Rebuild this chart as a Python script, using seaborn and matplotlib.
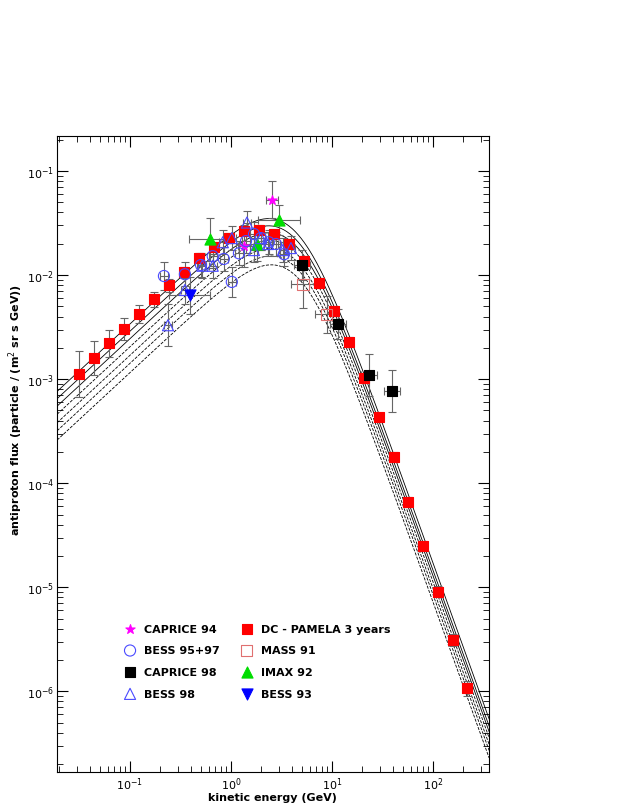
import numpy as np
import pandas as pd
import matplotlib
matplotlib.use("Agg")
import matplotlib.pyplot as plt
import seaborn as sns

# PAMELA 3 years
pam_E = [0.031,0.044,0.062,0.087,0.123,0.173,0.243,0.343,0.482,0.68,0.955,1.34,1.89,2.67,3.75,5.28,7.43,10.5,14.7,20.7,29.2,41.1,56.5,79.4,112,158,217]
pam_F = [1.12e-3,1.59e-3,2.22e-3,3.03e-3,4.22e-3,5.87e-3,8.0e-3,1.07e-2,1.46e-2,1.86e-2,2.27e-2,2.65e-2,2.71e-2,2.48e-2,1.99e-2,1.36e-2,8.4e-3,4.5e-3,2.27e-3,1.02e-3,4.3e-4,1.78e-4,6.6e-5,2.48e-5,9.1e-6,3.09e-6,1.07e-6]
pam_rel = [0.65,0.45,0.35,0.28,0.22,0.18,0.15,0.13,0.12,0.12,0.12,0.11,0.11,0.11,0.11,0.11,0.11,0.11,0.11,0.11,0.11,0.11,0.11,0.11,0.12,0.14,0.18]

cap94_E = [1.34, 2.55]; cap94_F = [1.9e-2, 5.3e-2]; cap94_rel = [0.6, 0.5]
bess_E = [0.217,0.35,0.505,0.66,0.85,1.02,1.2,1.41,1.69,1.98,2.37,2.79,3.35]
bess_F = [9.8e-3,1.02e-2,1.25e-2,1.52e-2,1.43e-2,8.6e-3,1.62e-2,2.12e-2,2.48e-2,2.27e-2,2.07e-2,1.99e-2,1.59e-2]
bess_rel = [0.35,0.3,0.3,0.3,0.3,0.4,0.3,0.3,0.3,0.3,0.3,0.3,0.3]
cap98_E = [5.05, 11.5, 23.3, 39.0]; cap98_F = [1.25e-2, 3.4e-3, 1.1e-3, 7.7e-4]; cap98_rel = [0.4, 0.4, 0.6, 0.6]
bess98_E = [0.238,0.35,0.52,0.66,0.83,1.02,1.44,1.69,1.98,2.33,3.27,3.93]
bess98_F = [3.3e-3,7.2e-3,1.23e-2,1.23e-2,2.07e-2,2.27e-2,3.2e-2,1.74e-2,2.27e-2,1.99e-2,1.74e-2,1.82e-2]
bess98_rel = [0.6,0.35,0.3,0.3,0.3,0.3,0.3,0.3,0.3,0.3,0.3,0.3]
mass_E = [5.17, 8.9]; mass_F = [8.2e-3, 4.2e-3]; mass_rel = [0.7, 0.5]
imax_E = [0.62, 1.81, 2.99]; imax_F = [2.2e-2, 2.0e-2, 3.4e-2]; imax_rel = [0.6, 0.45, 0.4]
bess93_E = [0.39]; bess93_F = [6.4e-3]; bess93_rel = [0.5]

# model curves (solar modulation family)
curve_A = [0.027,0.023,0.0195,0.0163,0.0135,0.0113,0.0092]
curve_Ec = [4.1,4.1,4.15,4.2,4.25,4.3,4.35]
curve_style = ["-","-","-","--","--","--","--"]

fig = plt.figure(figsize=(6.21, 8.04), dpi=100)
ax = fig.add_axes([0.092, 0.038, 0.695, 0.792])
ax.set_xscale("log"); ax.set_yscale("log")

Eg = np.logspace(np.log10(0.019), np.log10(360), 300)
for A, Ec, ls in zip(curve_A, curve_Ec, curve_style):
    F = A * Eg**0.9 * (1 + (Eg/Ec)**2)**(-1.8)
    sns.lineplot(x=Eg, y=F, ax=ax, color="black", lw=0.6, linestyle=ls, legend=False)

def plot_set(E, Fl, rel, marker, mfc, mec, label, ms=7, xf=1.17, ecol="#666666"):
    E = np.array(E); Fl = np.array(Fl); rel = np.array(rel)
    xerr = [E - E/xf, E*xf - E]
    yerr = [Fl - Fl/(1+rel), Fl*rel]
    ax.errorbar(E, Fl, xerr=xerr, yerr=yerr, fmt="none", ecolor=ecol, elinewidth=0.8, capsize=3, capthick=0.8, zorder=3)
    df = pd.DataFrame({"E": E, "F": Fl})
    sns.scatterplot(data=df, x="E", y="F", ax=ax, marker=marker, s=ms**2,
                    facecolor=mfc, edgecolor=mec, linewidth=0.8, zorder=4, label=label)

plot_set(cap94_E, cap94_F, cap94_rel, "*", "magenta", "magenta", "CAPRICE 94", xf=1.15)
plot_set(pam_E, pam_F, pam_rel, "s", "red", "red", "DC - PAMELA 3 years", xf=1.1)
plot_set(bess_E, bess_F, bess_rel, "o", "none", "#4a4aff", "BESS 95+97", ms=8, xf=1.1)
plot_set(mass_E, mass_F, mass_rel, "s", "none", "#e07070", "MASS 91", ms=8, xf=1.3)
plot_set(cap98_E, cap98_F, cap98_rel, "s", "black", "black", "CAPRICE 98", xf=1.2)
plot_set(imax_E, imax_F, imax_rel, "^", "#00dd00", "#00dd00", "IMAX 92", ms=8, xf=1.6)
plot_set(bess98_E, bess98_F, bess98_rel, "^", "none", "#4a4aff", "BESS 98", ms=8, xf=1.1)
plot_set(bess93_E, bess93_F, bess93_rel, "v", "blue", "blue", "BESS 93", ms=8, xf=1.6)

h, l = ax.get_legend_handles_labels()
order = ["CAPRICE 94","BESS 95+97","CAPRICE 98","BESS 98","DC - PAMELA 3 years","MASS 91","IMAX 92","BESS 93"]
hd = dict(zip(l, h))
ax.legend([hd[k] for k in order], order, ncol=2, frameon=False, loc="lower left",
          bbox_to_anchor=(0.12, 0.1), prop={"weight": "bold", "size": 8},
          handletextpad=0.3, columnspacing=1.4, labelspacing=1.05)

ax.set_xlim(0.019, 357)
ax.set_ylim(10**-6.78, 10**-0.66)
ax.set_xlabel("kinetic energy (GeV)", fontweight="bold", fontsize=8, labelpad=0)
ax.set_ylabel("antiproton flux (particle / (m$^2$ sr s GeV))", fontweight="bold", fontsize=8)
ax.yaxis.set_label_coords(-0.075, 0.57)
ax.tick_params(which="both", direction="in", top=True, right=True, labelsize=8, pad=2)
ax.tick_params(which="major", length=8)
ax.tick_params(which="minor", length=4)
for s in ax.spines.values():
    s.set_linewidth(0.8)
fig.savefig("out.png", dpi=100)
